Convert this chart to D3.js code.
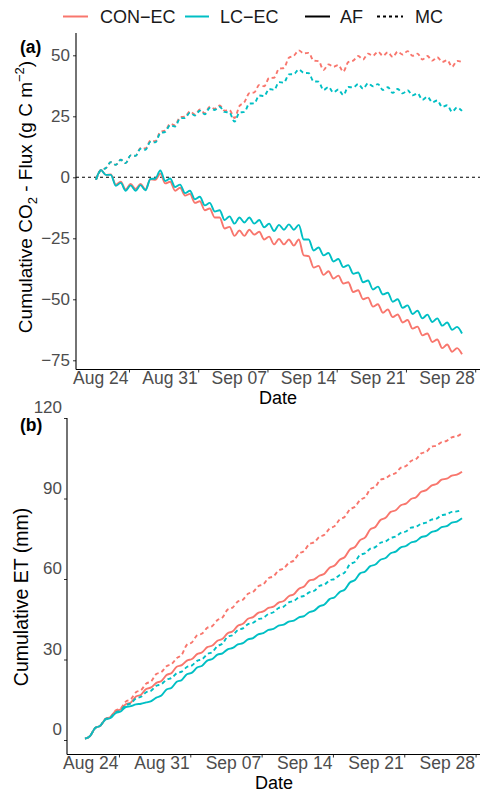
<!DOCTYPE html>
<html><head><meta charset="utf-8">
<script src="https://cdn.jsdelivr.net/npm/d3@7/dist/d3.min.js"></script>
<style>body{margin:0;background:#fff} text{font-family:"Liberation Sans",Arial,Helvetica,sans-serif}</style>
</head><body><svg id="c" width="480" height="794"></svg>
<script>
// ---------------- data ----------------
const sites = ["CON\u2212EC", "LC\u2212EC"];
const siteColors = ["#F8766D", "#00BFC4"];
const treatments = ["AF", "MC"];
const startTime = "2021-08-20T16:00:00Z";   // first half-daily sample
const stepHours = 12;
const tickDates = ["2021-08-24","2021-08-31","2021-09-07","2021-09-14","2021-09-21","2021-09-28"];
const co2Ticks = [-75, -50, -25, 0, 25, 50];
const etTicks = [0, 30, 60, 90, 120];

// Panel (a): cumulative CO2 flux (g C m-2), half-daily
const co2_CON_AF = [-1,3.0,1.0,1.2,-3.0,-1.8,-5.0,-2.7,-4.8,-2.7,-5.0,-0.8,-1.0,1.5,-2.5,-1.8,-5.5,-4.3,-7.5,-6.8,-10.5,-9.8,-13.5,-12.8,-16.5,-16.5,-21,-20.3,-24,-21.8,-24,-21.5,-23.5,-22.3,-25.5,-24.3,-27.5,-25.3,-27.5,-25.5,-28,-25.5,-32,-32.3,-37,-36.3,-40,-38.5,-41.5,-40.3,-43.5,-43,-47,-46.3,-50,-49.3,-53,-52,-55.5,-54.2,-57.3,-56.2,-59.5,-58.5,-62,-61.2,-64.8,-64,-67.5,-66.5,-70,-68.5,-71.5,-70,-72.5];
const co2_LC_AF = [-1,3.0,1.0,1.0,-3.5,-2.3,-5.5,-3.3,-5.5,-3.2,-5.3,-0.7,-0.5,2.8,-1.5,-0.5,-4,-3,-6.5,-5.5,-9,-8,-11.5,-10.5,-14,-13.5,-17.5,-16,-19,-16.5,-18.5,-16.5,-19,-17.5,-20.5,-19,-22,-19.5,-21.5,-19.3,-21.5,-19.5,-25.5,-25.5,-30,-28.8,-32,-31,-34.5,-33.5,-36.8,-36,-39.5,-39,-43,-42.3,-46,-44.8,-48,-47.3,-51,-50,-53.5,-52.5,-56,-54.7,-57.8,-56.3,-59.3,-57.8,-60.8,-59.5,-62.5,-61.3,-64];
const co2_CON_MC = [-1,3,3.8,6.2,5.1,7.2,5.8,9.0,8.8,12.0,11.8,15.0,14.8,18.6,19.1,21.9,21.3,24.7,24.8,27.0,25.8,27.8,26.3,28.9,28.1,29.4,27.3,27.5,24.3,29.2,30.8,34.5,34.8,37.8,37.3,40.7,40.8,44.5,44.8,49.0,49.8,52.0,50.8,51.0,47.8,47.6,44.0,46.3,45.3,46.0,43.3,47.2,47.8,49.7,48.3,50.7,49.8,51.5,49.8,51.2,49.3,51.5,50.3,51.7,49.8,50.7,48.3,49.7,47.8,49.2,47.3,48.0,45.3,47.7,47.2];
const co2_LC_MC = [-1,3,3.8,6.2,5.1,7.2,5.8,9.0,8.8,11.7,11.3,14.5,14.3,18.1,18.6,21.4,20.8,24.2,24.3,26.5,25.3,27.3,25.8,28.4,27.6,28.9,26.8,26.5,22.8,26.5,26.8,30.2,30.3,33.5,33.3,36.2,35.8,39.0,38.8,42.2,42.3,44.2,42.8,42.7,39.3,39.2,35.8,37.0,34.8,36.0,33.7,37.0,36.8,38.2,36.3,38.5,37.3,38.2,35.8,36.9,34.6,36.2,34.4,35.7,33.6,34.4,31.8,33.0,30.8,31.5,28.8,29.5,26.9,28.6,27.2];

// Panel (b): cumulative ET (mm), half-daily
const et_CON_AF = [0.5,1.5,4.5,5.3,7.8,8.6,10.8,11.4,13.3,14.0,16.2,16.9,19,19.6,21.3,22.0,24.2,25.0,27.3,27.9,29.6,30.2,32,32.7,34.6,35.2,37,37.7,39.8,40.5,42.6,43.3,45.2,45.8,47.4,47.9,49.2,49.7,51.2,51.8,53.6,54.3,56.4,57.2,59.4,59.9,61.2,62.0,64.2,65.0,67.2,68.2,71,71.9,74.5,75.5,78.5,79.4,82,82.8,85,85.6,87.5,88.1,89.8,90.5,92.5,93.1,94.8,95.4,97,97.4,98.5,98.9,100];
const et_LC_AF = [0.5,1.5,4.5,5.3,7.6,8.2,10,10.6,12.3,12.6,13.3,13.5,14,14.5,15.8,16.6,18.8,19.5,21.7,22.4,24.5,25.1,27,27.7,29.6,30.2,31.8,32.3,33.8,34.3,35.6,36.1,37.5,38.0,39.4,39.8,41,41.4,42.6,43.0,44.1,44.5,45.7,46.2,47.6,48.2,49.8,50.5,52.5,53.2,55.2,56.1,58.7,59.6,62.1,62.8,64.8,65.4,67.2,67.8,69.6,70.2,71.8,72.3,73.6,74.1,75.6,76.1,77.5,78.0,79.3,79.7,81,81.4,82.6];
const et_CON_MC = [0.5,1.5,4.5,5.3,7.8,8.6,11,11.8,14.3,15.2,17.8,18.6,21,21.9,24.6,25.3,27.5,28.3,30.5,31.8,35.5,36.4,39,39.7,41.8,42.5,44.7,45.7,48.6,49.4,51.6,52.3,54.5,55.2,57.3,58.0,60.3,61.0,63.2,63.9,66,66.9,69.5,70.4,73,73.7,75.7,76.5,78.8,79.7,82.2,83.2,86,86.9,89.5,90.5,93.5,94.4,97,97.5,98.8,99.5,101.5,102.1,104,104.7,106.8,107.4,109.3,109.7,111,111.5,112.8,113.2,114.3];
const et_LC_MC = [0.5,1.5,4.5,5.3,7.8,8.4,10.3,11.0,13,13.6,15.5,16.1,17.8,18.4,20.2,20.8,22.5,23.1,24.9,25.5,27.2,27.8,29.5,30.1,32,32.8,35,35.9,38.5,39.1,41,41.6,43.2,43.7,45,45.5,47,47.6,49.2,49.7,51.3,51.8,53.2,53.7,55,55.6,57.4,57.9,59.5,60.0,61.5,62.5,65.5,66.4,69,69.6,71.3,71.9,73.5,74.0,75.3,75.8,77.2,77.7,79.1,79.5,80.6,81.0,82.1,82.5,83.8,84.1,85,85.2,85.7];

// ---------------- drawing ----------------
const svg = d3.select("#c");
const t0 = new Date(startTime);
const nPts = co2_CON_AF.length;
const times = co2_CON_AF.map((_, i) => new Date(t0.getTime() + i * stepHours * 3600e3));
const tEnd = times[nPts - 1];
const ticks = tickDates.map(s => new Date(s + "T00:00:00Z"));
const fmt = d3.utcFormat("%b %d");
const yTickFont = 17, xTickFont = 17.5, tickCol = "#4d4d4d";

function panel(cfg) {
  const x = d3.scaleUtc().domain([t0, tEnd]).range(cfg.xr);
  const y = d3.scaleLinear().domain(cfg.ydom).range(cfg.yr);
  const g = svg.append("g");

  if (cfg.zero) {
    g.append("line").attr("x1", cfg.axX).attr("x2", 480).attr("y1", y(0)).attr("y2", y(0))
      .attr("stroke", "#000").attr("stroke-width", 1.1).attr("stroke-dasharray", "3,3");
  }

  const line = d3.line().x((d, i) => x(times[i])).y(d => y(d)).curve(d3.curveMonotoneX);
  cfg.series.forEach(s => {
    g.append("path").datum(s.values).attr("d", line).attr("fill", "none")
      .attr("stroke", siteColors[s.site]).attr("stroke-width", 1.9)
      .attr("stroke-linejoin", "round")
      .attr("stroke-dasharray", s.trt === 1 ? "4,3" : null);
  });

  const ya = g.append("g").attr("transform", `translate(${cfg.axX},0)`)
    .call(d3.axisLeft(y).tickValues(cfg.yticks).tickSize(3).tickPadding(cfg.yPad));
  ya.select(".domain").remove();
  ya.selectAll(".tick line").attr("stroke", "#333");
  ya.selectAll(".tick text").attr("font-size", yTickFont).attr("fill", tickCol)
    .attr("font-family", "Liberation Sans, Arial, sans-serif").attr("dy", cfg.yLabDy);
  g.append("line").attr("x1", cfg.axX).attr("x2", cfg.axX).attr("y1", cfg.axTop).attr("y2", cfg.axY)
    .attr("stroke", "#000").attr("stroke-width", 1.1);

  const xa = g.append("g").attr("transform", `translate(0,${cfg.axY})`)
    .call(d3.axisBottom(x).tickValues(ticks).tickFormat(fmt).tickSize(3));
  xa.select(".domain").remove();
  xa.selectAll(".tick line").attr("stroke", "#333");
  xa.selectAll(".tick text").attr("font-size", xTickFont).attr("fill", tickCol)
    .attr("font-family", "Liberation Sans, Arial, sans-serif")
    .attr("text-anchor", "end").attr("x", -1).attr("y", 2).attr("dy", "0.71em");
  g.append("line").attr("x1", cfg.axX).attr("x2", 480).attr("y1", cfg.axY).attr("y2", cfg.axY)
    .attr("stroke", "#000").attr("stroke-width", 1.1);

  g.append("text").attr("x", cfg.dateX).attr("y", cfg.dateY).attr("text-anchor", "middle")
    .attr("font-size", 18).text("Date");
  g.append("text").attr("x", 20).attr("y", cfg.tagY).attr("font-size", 17.5).attr("font-weight", "bold")
    .text(cfg.tag);
  const yt = g.append("text").attr("transform", `translate(${cfg.ytX},${cfg.ytY}) rotate(-90)`)
    .attr("text-anchor", "middle").attr("font-size", cfg.ytSize);
  cfg.ytitle(yt);
}

panel({
  xr: [96, 462], ydom: [0, 50], yr: [177.3, 55.3], axX: 76, axTop: 33, axY: 369.5,
  yticks: co2Ticks, yPad: 3, yLabDy: "0.32em", zero: true,
  dateX: 278, dateY: 403.5, tag: "(a)", tagY: 53, ytX: 32, ytY: 197, ytSize: 19,
  ytitle: t => {
    t.append("tspan").text("Cumulative CO");
    t.append("tspan").attr("font-size", 13).attr("dy", 5).text("2");
    t.append("tspan").attr("dy", -5).text(" - Flux (g C m");
    t.append("tspan").attr("font-size", 13).attr("dy", -8).text("\u22122");
    t.append("tspan").attr("dy", 8).text(")");
  },
  series: [
    {site: 0, trt: 0, values: co2_CON_AF},
    {site: 1, trt: 0, values: co2_LC_AF},
    {site: 0, trt: 1, values: co2_CON_MC},
    {site: 1, trt: 1, values: co2_LC_MC}
  ]
});

panel({
  xr: [85, 462], ydom: [0, 120], yr: [740, 418], axX: 67, axTop: 418, axY: 754.5,
  yticks: etTicks, yPad: 2, yLabDy: "-0.3em", zero: false,
  dateX: 274, dateY: 789, tag: "(b)", tagY: 431, ytX: 28, ytY: 597, ytSize: 19.5,
  ytitle: t => t.text("Cumulative ET (mm)"),
  series: [
    {site: 0, trt: 0, values: et_CON_AF},
    {site: 1, trt: 0, values: et_LC_AF},
    {site: 0, trt: 1, values: et_CON_MC},
    {site: 1, trt: 1, values: et_LC_MC}
  ]
});

const leg = svg.append("g");
const legItems = [
  {label: sites[0], color: siteColors[0], dash: null, x1: 63, x2: 88, tx: 100},
  {label: sites[1], color: siteColors[1], dash: null, x1: 185, x2: 209, tx: 220},
  {label: treatments[0], color: "#000", dash: null, x1: 305, x2: 330, tx: 340},
  {label: treatments[1], color: "#000", dash: "3,3", x1: 377, x2: 403, tx: 415}
];
legItems.forEach(it => {
  leg.append("line").attr("x1", it.x1).attr("x2", it.x2).attr("y1", 16.5).attr("y2", 16.5)
    .attr("stroke", it.color).attr("stroke-width", 2).attr("stroke-dasharray", it.dash);
  leg.append("text").attr("x", it.tx).attr("y", 23).attr("font-size", 18).attr("fill", "#1a1a1a").text(it.label);
});
</script></body></html>
